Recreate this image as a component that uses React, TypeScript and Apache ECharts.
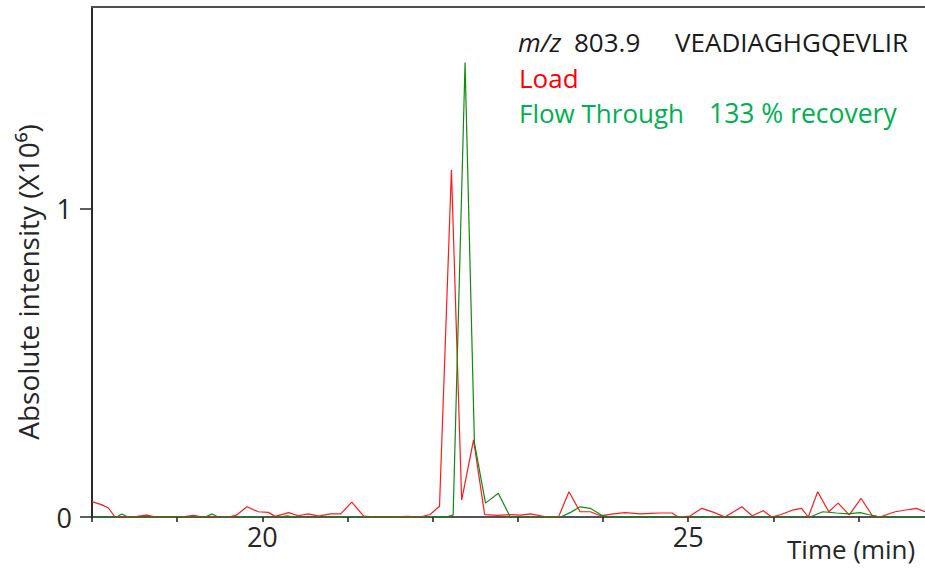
import React, { useEffect, useRef } from "react";
import * as echarts from "echarts";

// Load (red) chromatogram: retention time (min) and intensity (x10^6)
const loadTime = [
  18.0, 18.11, 18.19, 18.27, 18.45, 18.53, 18.64, 18.75, 19.05, 19.19, 19.3, 19.6, 19.69,
  19.82, 19.95, 20.07, 20.15, 20.31, 20.42, 20.54, 20.66, 20.8, 20.92, 21.05, 21.19, 21.33,
  21.5, 21.7, 21.85, 21.97, 22.08, 22.22, 22.34, 22.48, 22.61, 22.76, 22.91, 23.03, 23.15,
  23.34, 23.48, 23.6, 23.73, 23.85, 23.97, 24.12, 24.26, 24.44, 24.56, 24.67, 24.81, 24.88,
  25.02, 25.16, 25.3, 25.43, 25.63, 25.75, 25.88, 25.98, 26.09, 26.22, 26.33, 26.41, 26.52,
  26.65, 26.76, 26.89, 27.03, 27.16, 27.25, 27.43, 27.61, 27.68, 27.78,
];
const loadIntensity = [
  0.05, 0.04, 0.03, 0.0, 0.0, 0.002, 0.006, 0.0, 0.0, 0.005, 0.0, 0.0, 0.005,
  0.033, 0.017, 0.015, 0.002, 0.014, 0.004, 0.01, 0.003, 0.01, 0.01, 0.048, 0.003, 0.0,
  0.0, 0.002, 0.0, 0.008, 0.035, 1.124, 0.055, 0.25, 0.008, 0.005, 0.008, 0.006, 0.01,
  0.0, 0.002, 0.082, 0.017, 0.017, 0.004, 0.01, 0.014, 0.01, 0.012, 0.013, 0.013, 0.0,
  0.003, 0.028, 0.015, 0.0, 0.033, 0.004, 0.02, 0.0, 0.008, 0.022, 0.028, 0.0, 0.082,
  0.017, 0.045, 0.007, 0.06, 0.005, 0.0, 0.017, 0.025, 0.028, 0.017,
];

// Flow Through (green) chromatogram
const flowTime = [
  18.0, 18.07, 18.29, 18.35, 18.42, 18.7, 19.0, 19.33, 19.41, 19.48, 19.8, 20.2, 20.29,
  20.38, 21.0, 21.5, 22.0, 22.15, 22.24, 22.38, 22.49, 22.62, 22.77, 22.91, 23.2, 23.5,
  23.62, 23.73, 23.85, 23.99, 24.1, 25.0, 26.0, 26.43, 26.58, 26.74, 26.88, 27.02, 27.11,
  27.25, 27.78,
];
const flowIntensity = [
  0.0, 0.0, 0.0, 0.01, 0.0, 0.0, 0.0, 0.0, 0.01, 0.0, 0.0, 0.0, 0.004,
  0.0, 0.0, 0.0, 0.0, 0.0, 0.006, 1.472, 0.24, 0.045, 0.077, 0.0, 0.0, 0.0,
  0.015, 0.033, 0.028, 0.005, 0.0, 0.0, 0.0, 0.0, 0.017, 0.013, 0.01, 0.014, 0.008,
  0.0, 0.0,
];

const xTickValues = [18, 19, 20, 21, 22, 23, 24, 25, 26, 27];
const xLabelValues = [20, 25];
const yTickValues = [0, 1];

const FONT = "Open Sans";

export default function App() {
  const ref = useRef<HTMLDivElement>(null);

  useEffect(() => {
    if (!ref.current) return;
    const chart = echarts.init(ref.current, undefined, { renderer: "svg" });

    const loadData = loadTime.map((t, i) => [t, loadIntensity[i]]);
    const flowData = flowTime.map((t, i) => [t, flowIntensity[i]]);

    const textStyle = (text: string, fill: string, extra: Record<string, unknown> = {}) => ({
      text,
      fontSize: 26,
      fontFamily: FONT,
      fill,
      textVerticalAlign: "middle",
      verticalAlign: "middle",
      ...extra,
    });

    chart.setOption({
      animation: false,
      backgroundColor: "#ffffff",
      grid: { left: 92, right: 0, top: 7, bottom: 53, containLabel: false },
      xAxis: [
        {
          type: "value",
          position: "bottom",
          min: 18,
          max: 27.78,
          interval: 1,
          axisLine: { show: true, onZero: false, lineStyle: { color: "#1a1a1a", width: 1.5 } },
          axisTick: {
            show: true,
            length: 5,
            customValues: xTickValues,
            lineStyle: { color: "#1a1a1a", width: 1.5 },
          },
          axisLabel: {
            customValues: xLabelValues,
            formatter: (v: number) => (xLabelValues.includes(v) ? String(v) : ""),
            fontSize: 27,
            fontFamily: FONT,
            color: "#262626",
            margin: 6,
          },
          splitLine: { show: false },
        },
        {
          type: "value",
          position: "top",
          min: 18,
          max: 27.78,
          axisLine: { show: true, onZero: false, lineStyle: { color: "#505050", width: 2 } },
          axisTick: { show: false },
          axisLabel: { show: false },
          splitLine: { show: false },
        },
      ],
      yAxis: {
        type: "value",
        min: 0,
        max: 1.652,
        interval: 1,
        axisLine: { show: true, onZero: false, lineStyle: { color: "#2a2a2a", width: 2 } },
        axisTick: {
          show: true,
          length: 12,
          customValues: yTickValues,
          lineStyle: { color: "#2a2a2a", width: 1.5 },
        },
        axisLabel: {
          customValues: yTickValues,
          formatter: (v: number) => (yTickValues.includes(v) ? String(v) : ""),
          fontSize: 27,
          fontFamily: FONT,
          color: "#262626",
          margin: 20,
        },
        splitLine: { show: false },
      },
      series: [
        {
          name: "Load",
          type: "line",
          data: loadData,
          showSymbol: false,
          symbol: "none",
          lineStyle: { color: "#ff1a1a", width: 1.2 },
          itemStyle: { color: "#ff1a1a" },
          z: 2,
        },
        {
          name: "Flow Through",
          type: "line",
          data: flowData,
          showSymbol: false,
          symbol: "none",
          lineStyle: { color: "#118a11", width: 1.2 },
          itemStyle: { color: "#118a11" },
          z: 3,
        },
      ],
      graphic: [
        {
          type: "text",
          x: 28,
          y: 282,
          rotation: Math.PI / 2,
          style: textStyle("Absolute intensity (X10\u2076)", "#262626", {
            fontSize: 28,
            textAlign: "center",
            align: "center",
          }),
        },
        { type: "text", x: 787, y: 549, style: textStyle("Time (min)", "#262626") },
        {
          type: "text",
          x: 518,
          y: 42,
          style: textStyle("m/z", "#1a1a1a", { fontStyle: "italic" }),
        },
        { type: "text", x: 574, y: 42, style: textStyle("803.9", "#1a1a1a") },
        { type: "text", x: 675, y: 42, style: textStyle("VEADIAGHGQEVLIR", "#1a1a1a") },
        { type: "text", x: 519, y: 78, style: textStyle("Load", "#ff0000") },
        { type: "text", x: 519, y: 113, style: textStyle("Flow Through", "#00b050") },
        {
          type: "text",
          x: 709,
          y: 113,
          style: textStyle("133 % recovery", "#00b050", { fontSize: 26.5 }),
        },
      ],
    });

    return () => chart.dispose();
  }, []);

  return (
    <div
      ref={ref}
      style={{ position: "absolute", left: 0, top: 0, width: 925, height: 570 }}
    />
  );
}
